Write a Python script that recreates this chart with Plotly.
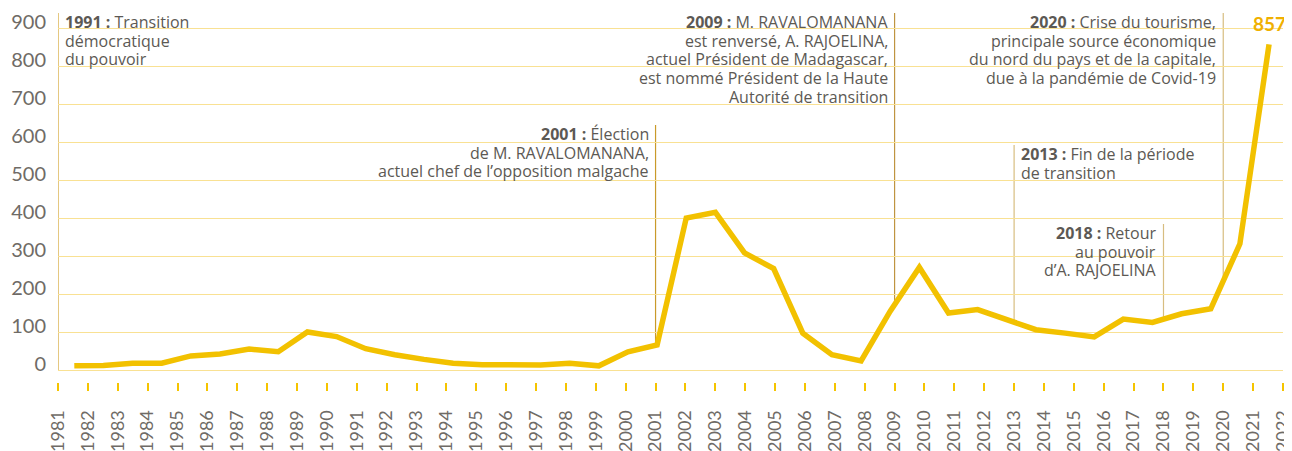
import numpy as np
import plotly.graph_objects as go

# ---------------- data ----------------
years = list(range(1981, 2023))
values = [11, 12, 18, 18, 37, 42, 55, 48, 100, 88,
          56, 40, 28, 18, 14, 12, 13, 18, 11, 48,
          66, 400, 415, 308, 267, 97, 40, 24, 155, 270,
          150, 159, 131, 106, 97, 87, 134, 125, 148, 161,
          332, 857]
tick_years = list(range(1981, 2023))
y_ticks = list(range(0, 1000, 100))

event_titles = ["1991 :", "2001 :", "2009 :", "2013 :", "2018 :", "2020 :"]
event_lines = [
    ["Transition", "démocratique", "du pouvoir"],
    ["Élection", "de M. RAVALOMANANA,", "actuel chef de l’opposition malgache"],
    ["M. RAVALOMANANA", "est renversé, A. RAJOELINA,", "actuel Président de Madagascar,",
     "est nommé Président de la Haute", "Autorité de transition"],
    ["Fin de la période", "de transition"],
    ["Retour", "au pouvoir", "d’A. RAJOELINA"],
    ["Crise du tourisme,", "principale source économique", "du nord du pays et de la capitale,",
     "due à la pandémie de Covid-19"],
]

# ---------------- layout config ----------------
# the page body adds an 8px margin, so the figure is 8px smaller than the window
W, H = 1284, 443
M = dict(l=50, r=9, t=5, b=69)
Y_RANGE = [-31.58, 939.47]
X_TICK_RANGE = [1981, 2022]
X_DATA_RANGE = [1980.4406, 2022.479]

# per event: line x (on tick axis), line top (y units), side of text, line colour
ev_x = [1981, 2001, 2009, 2013, 2018, 2020]
ev_top = [939.47, 644.7, 939.47, 592.0, 384.2, 939.47]
ev_side = ["left", "right", "right", "left", "right", "right"]
ev_col = ["#d4a32c", "#c99a2a", "#bf9440", "#d7bd80", "#d7bd80", "#d7bd80"]
LINE_STEP = 18.7  # px between text lines

LINE_COLOR = "#f2c100"
GRID_COLOR = "#f9e193"
TEXT_COLOR = "#5c5954"
TICK_COLOR = "#6f6b66"
FONT = "Lato"
ANN_FONT = "Open Sans"


def tick_to_data_x(x):
    frac = (x - X_TICK_RANGE[0]) / (X_TICK_RANGE[1] - X_TICK_RANGE[0])
    return X_DATA_RANGE[0] + frac * (X_DATA_RANGE[1] - X_DATA_RANGE[0])


fig = go.Figure()
fig.add_trace(go.Scatter(
    x=years, y=values, xaxis="x2", yaxis="y", mode="lines",
    line=dict(color=LINE_COLOR, width=5.5), hoverinfo="x+y", showlegend=False,
))

shapes = []
annotations = []
for i, title in enumerate(event_titles):
    x = ev_x[i]
    if i == 0:
        bottom = 0
    else:
        bottom = float(np.interp(tick_to_data_x(x), years, values))
    shapes.append(dict(type="line", xref="x", yref="y", x0=x, x1=x,
                       y0=bottom, y1=ev_top[i], layer="below",
                       line=dict(color=ev_col[i], width=1.2)))
    left = ev_side[i] == "left"
    for k, line in enumerate(event_lines[i]):
        txt = (f"<b>{title}</b> {line}") if k == 0 else line
        annotations.append(dict(
            xref="x", yref="y", x=x, y=ev_top[i], text=txt, showarrow=False,
            xanchor="left" if left else "right", yanchor="top",
            align="left" if left else "right",
            xshift=5 if left else -5, yshift=4 - k * LINE_STEP,
            font=dict(family=ANN_FONT, size=16, color=TEXT_COLOR),
        ))

# last value label
annotations.append(dict(
    xref="x2", yref="y", x=years[-1], y=values[-1], text=f"<b>{values[-1]}</b>",
    showarrow=False, xanchor="center", yanchor="bottom", yshift=7,
    font=dict(family=FONT, size=19, color="#f0b000"),
))

fig.update_layout(
    width=W, height=H, margin=M,
    paper_bgcolor="white", plot_bgcolor="white",
    showlegend=False,
    xaxis=dict(range=X_TICK_RANGE, tickvals=tick_years, ticktext=[str(y) for y in tick_years],
               tickangle=-90, ticks="outside", ticklen=8, tickwidth=2, tickcolor="#f5c400",
               showgrid=False, showline=False, zeroline=False, ticklabelstandoff=12,
               automargin=False, ticklabeloverflow="allow",
               tickfont=dict(family=FONT, size=18, color=TICK_COLOR)),
    xaxis2=dict(range=X_DATA_RANGE, overlaying="x", anchor="y", visible=False),
    yaxis=dict(range=Y_RANGE, tickvals=y_ticks, showgrid=True, gridcolor=GRID_COLOR,
               gridwidth=1.3, zeroline=False, showline=False, ticks="",
               ticklabelposition="outside", ticklabelshift=-6, ticklabelstandoff=11,
               automargin=False, ticklabeloverflow="allow",
               tickfont=dict(family=FONT, size=20, color=TICK_COLOR)),
    shapes=shapes, annotations=annotations,
)

fig.write_html("out.html")
